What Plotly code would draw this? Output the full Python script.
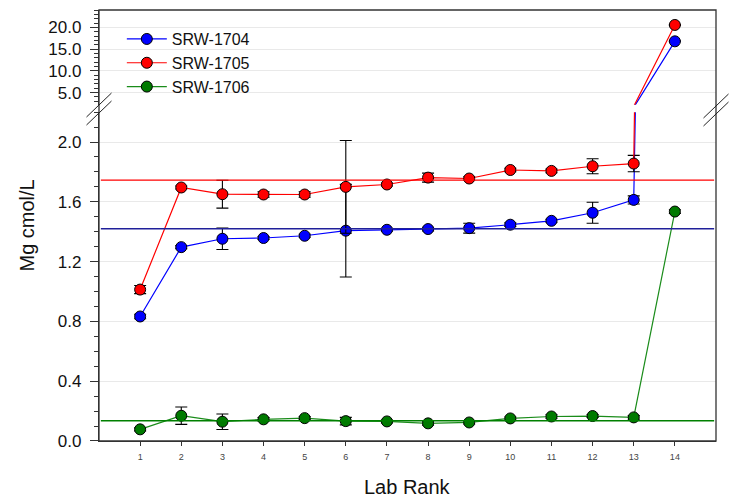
import plotly.graph_objects as go

# ---------------- data ----------------
lab_rank = [1, 2, 3, 4, 5, 6, 7, 8, 9, 10, 11, 12, 13, 14]
series_names = ["SRW-1704", "SRW-1705", "SRW-1706"]

srw1704 = [0.833, 1.297, 1.353, 1.358, 1.373, 1.407, 1.413, 1.418, 1.424, 1.447, 1.473, 1.527, 1.613, 16.8]
srw1704_err = [0.015, 0.01, 0.072, 0.01, 0.01, 0.31, 0.01, 0.012, 0.033, 0.012, 0.01, 0.07, 0.027, 0.1]

srw1705 = [1.013, 1.696, 1.651, 1.649, 1.649, 1.700, 1.716, 1.762, 1.756, 1.813, 1.807, 1.838, 1.856, 20.56]
srw1705_err = [0.027, 0.01, 0.093, 0.018, 0.018, 0.31, 0.01, 0.03, 0.012, 0.012, 0.012, 0.05, 0.055, 0.1]

srw1706 = [0.078, 0.169, 0.129, 0.145, 0.153, 0.133, 0.131, 0.118, 0.124, 0.151, 0.164, 0.167, 0.158, 1.535]
srw1706_err = [0.01, 0.058, 0.052, 0.012, 0.01, 0.025, 0.01, 0.012, 0.01, 0.01, 0.012, 0.01, 0.012, 0.012]

ref_values = [1.42, 1.745, 0.135]   # consensus lines for 1704, 1705, 1706

bottom_ticks = [0.0, 0.4, 0.8, 1.2, 1.6, 2.0]
top_ticks = [5.0, 10.0, 15.0, 20.0]
bottom_range = [0, 2.2]
top_range = [2.2, 24.0]

# ---------------- style ----------------
marker_colors = ["#0000ff", "#ff0000", "#007a00"]
line_colors = ["#0000ff", "#ff0000", "#1a8c1a"]
ref_colors = ["#20209a", "#ff0000", "#008000"]
FONT = "Helvetica, Liberation Sans, Arial, sans-serif"

fig = go.Figure()

values = [srw1704, srw1705, srw1706]
errors = [srw1704_err, srw1705_err, srw1706_err]

# lower panel: full series (lines clipped at the break)
for i, name in enumerate(series_names):
    fig.add_trace(go.Scatter(
        x=lab_rank, y=values[i], name=name, yaxis="y",
        mode="lines+markers",
        line=dict(color=line_colors[i], width=1.2),
        marker=dict(size=11, color=marker_colors[i], line=dict(color="black", width=1)),
        error_y=dict(type="data", array=errors[i], color="black", thickness=1.1, width=6),
        cliponaxis=True,
    ))

# upper panel: lines for all points (clipped), markers only for points inside the upper range
for i, name in enumerate(series_names):
    fig.add_trace(go.Scatter(
        x=lab_rank, y=values[i], yaxis="y2", mode="lines",
        line=dict(color=line_colors[i], width=1.2), showlegend=False, hoverinfo="skip",
    ))
    keep = [k for k, v in enumerate(values[i]) if v >= top_range[0]]
    if keep:
        fig.add_trace(go.Scatter(
            x=[lab_rank[k] for k in keep], y=[values[i][k] for k in keep], yaxis="y2",
            mode="markers", name=name, showlegend=False,
            marker=dict(size=11, color=marker_colors[i], line=dict(color="black", width=1)),
            error_y=dict(type="data", array=[errors[i][k] for k in keep], color="black",
                         thickness=1.1, width=6),
        ))

shapes = []
for i, v in enumerate(ref_values):
    shapes.append(dict(type="line", xref="x domain", yref="y", x0=0.003, x1=0.997, y0=v, y1=v,
                       line=dict(color=ref_colors[i], width=1.4), layer="above"))

# frame
shapes.append(dict(type="rect", xref="paper", yref="paper", x0=0, x1=1, y0=0, y1=1,
                   line=dict(color="#333333", width=1.3), layer="above"))

# axis-break marks (pixel positions converted to paper coords)
L, R, T, B = 99, 716, 10, 441
def px(xp, yp):
    return (xp - L) / (R - L), (B - yp) / (B - T)

for (x0, y0, x1, y1) in [(86.5, 117, 111.5, 93), (86.5, 125, 111.5, 101),
                         (703.5, 118, 728.5, 94), (703.5, 126, 728.5, 102)]:
    a, b = px(x0, y0)
    c, d = px(x1, y1)
    shapes.append(dict(type="line", xref="paper", yref="paper", x0=a, y0=b, x1=c, y1=d,
                       line=dict(color="#222222", width=1)))

axis_common = dict(
    showgrid=True, gridcolor="#e9e9e9", gridwidth=1,
    ticks="outside", ticklen=8, tickcolor="#333333", tickwidth=1,
    showline=True, linecolor="#333333", linewidth=1.3,
    zeroline=False, automargin=False,
    tickfont=dict(size=17, color="#111111", family=FONT),
    tickformat=".1f", ticklabelstandoff=5,
)

ylab_x, ylab_y = px(26, 225.5)
xlab_x, xlab_y = px(407.5, 487)

fig.update_layout(
    width=731, height=497,
    margin=dict(l=L, r=731 - R, t=T, b=497 - B),
    paper_bgcolor="white", plot_bgcolor="white",
    font=dict(family=FONT, color="#111111"),
    xaxis=dict(
        range=[0, 15], tickvals=lab_rank, ticks="outside", ticklen=4,
        tickcolor="#333333", showgrid=False, zeroline=False, automargin=False,
        showline=True, linecolor="#333333", linewidth=1.3,
        tickfont=dict(size=9, color="#444444", family=FONT), ticklabelstandoff=3,
    ),
    yaxis=dict(
        domain=[0, 0.763], range=bottom_range, tickvals=bottom_ticks,
        minor=dict(dtick=0.1, ticks="outside", ticklen=4, tickcolor="#333333", showgrid=False),
        **axis_common,
    ),
    yaxis2=dict(
        domain=[0.78, 1], range=top_range, tickvals=top_ticks,
        minor=dict(dtick=1, tick0=0, ticks="outside", ticklen=4, tickcolor="#333333", showgrid=False),
        anchor="x",
        **axis_common,
    ),
    legend=dict(
        x=0.037, y=0.972, xanchor="left", yanchor="top",
        bgcolor="rgba(0,0,0,0)", borderwidth=0,
        font=dict(size=16, family=FONT, color="#111111"),
        tracegroupgap=0, itemwidth=40,
    ),
    annotations=[
        dict(text="Mg cmol/L", xref="paper", yref="paper", x=ylab_x, y=ylab_y,
             textangle=-90, showarrow=False, xanchor="center", yanchor="middle",
             font=dict(size=20, family=FONT, color="#111111")),
        dict(text="Lab Rank", xref="paper", yref="paper", x=xlab_x, y=xlab_y,
             showarrow=False, xanchor="center", yanchor="middle",
             font=dict(size=20, family=FONT, color="#111111")),
    ],
    shapes=shapes,
)

fig.write_html("out.html", post_script="document.body.style.margin='0';",
               config={"displayModeBar": False})
